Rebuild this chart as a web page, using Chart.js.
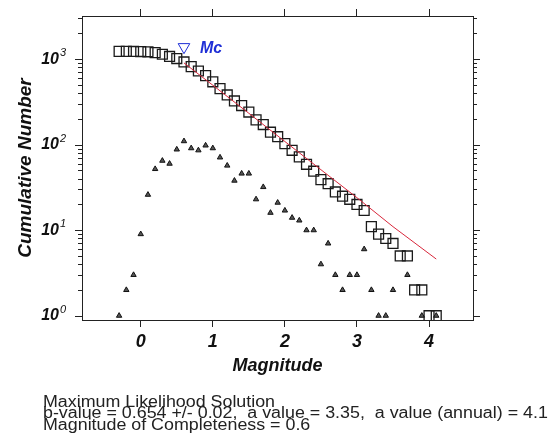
<!DOCTYPE html>
<html>
<head>
<meta charset="utf-8">
<script src="https://cdn.jsdelivr.net/npm/chart.js@4.4.1/dist/chart.umd.min.js"></script>
<style>
    html, body { margin: 0; padding: 0; background: #fff; }
</style>
</head>
<body>
<canvas id="fmd-chart" width="550" height="439"></canvas>
<script>
// magnitude bins (0.1 step)
var magBins = [-0.3, -0.2, -0.1, 0.0, 0.1, 0.2, 0.3, 0.4, 0.5, 0.6, 0.7, 0.8, 0.9, 1.0, 1.1,
    1.2, 1.3, 1.4, 1.5, 1.6, 1.7, 1.8, 1.9, 2.0, 2.1, 2.2, 2.3, 2.4, 2.5, 2.6, 2.7, 2.8, 2.9,
    3.0, 3.1, 3.2, 3.3, 3.4, 3.5, 3.6, 3.7, 3.8, 3.9, 4.0, 4.1];

// squares - cumulative number of events
var cumCount = [1235, 1234, 1232, 1229, 1220, 1194, 1142, 1077, 1017, 929, 819, 728, 642, 544, 453,
    382, 325, 287, 241, 195, 172, 140, 124, 103, 86, 72, 59, 49, 39, 35, 28, 25, 23,
    20, 17, 11, 9, 8, 7, 5, 5, 2, 2, 1, 1];

// triangles - events per bin (0 = nothing drawn)
var binCount = [1, 2, 3, 9, 26, 52, 65, 60, 88, 110, 91, 86, 98, 91, 71,
    57, 38, 46, 46, 23, 32, 16, 21, 17, 14, 13, 10, 10, 4, 7, 3, 2, 3,
    3, 6, 2, 1, 1, 2, 0, 3, 0, 1, 0, 1];

// red maximum likelihood line
var fitMag = [0.6, 1.0, 1.5, 2.0, 2.5, 3.0, 3.5, 4.1];
var fitCount = [905, 496, 233, 109, 51, 24, 11, 4.6];

// Mc marker
var mcMag = 0.6;
var mcCount = 1390;
var mcLabel = 'Mc';

var xTickValues = [0, 1, 2, 3, 4];
var yTickExponents = [0, 1, 2, 3];

var xTitle = 'Magnitude';
var yTitle = 'Cumulative Number';
var summaryLines = [
    'Maximum Likelihood Solution',
    'b-value = 0.654 +/- 0.02,  a value = 3.35,  a value (annual) = 4.1',
    'Magnitude of Completeness = 0.6'
];

var FONT = "'Liberation Sans', Arial, sans-serif";
var AXIS_COLOR = '#222';

function toPoints(xs, ys) {
    var pts = [];
    xs.forEach(function (x, i) {
        if (ys[i] > 0) {
            pts.push({x: x, y: ys[i]});
        }
    });
    return pts;
}

function setTicks(values) {
    return function (scale) {
        scale.ticks = values.map(function (v) { return {value: v}; });
    };
}

function hLine(ctx, x1, x2, y) {
    ctx.beginPath();
    ctx.moveTo(x1, y);
    ctx.lineTo(x2, y);
    ctx.stroke();
}

var decorPlugin = {
    id: 'decor',
    afterDraw: function (chart) {
        var ctx = chart.ctx;
        var area = chart.chartArea;
        var yScale = chart.scales.y;
        ctx.save();

        // log ticks on both sides, long ones at the decades
        ctx.strokeStyle = AXIS_COLOR;
        ctx.lineWidth = 1;
        yTickExponents.forEach(function (e) {
            for (var m = 1; m <= 9; m++) {
                var v = m * Math.pow(10, e);
                if (v < yScale.min || v > yScale.max) continue;
                var py = Math.round(yScale.getPixelForValue(v)) + 0.5;
                var len = m === 1 ? 7 : 4;
                hLine(ctx, area.left - len, area.left, py);
                hLine(ctx, area.right, area.right + len, py);
            }
        });

        // 10^n labels
        ctx.fillStyle = '#111';
        yTickExponents.forEach(function (e) {
            var py = yScale.getPixelForValue(Math.pow(10, e));
            ctx.font = 'italic bold 16px ' + FONT;
            ctx.textAlign = 'right';
            ctx.textBaseline = 'alphabetic';
            ctx.fillText('10', 59, py + 4.5);
            ctx.font = 'italic 11px ' + FONT;
            ctx.textAlign = 'left';
            ctx.fillText(String(e), 60, py - 3);
        });

        // Mc label next to its marker
        var mx = chart.scales.x.getPixelForValue(mcMag);
        var my = yScale.getPixelForValue(mcCount);
        ctx.fillStyle = '#1f2fd6';
        ctx.font = 'italic bold 16px ' + FONT;
        ctx.textAlign = 'left';
        ctx.fillText(mcLabel, mx + 16, my + 6.5);

        // summary text under the plot
        ctx.fillStyle = '#222';
        ctx.font = '16px ' + FONT;
        summaryLines.forEach(function (line, i) {
            ctx.save();
            ctx.translate(43, 406.5 + i * 11.6);
            ctx.scale(1.115, 1);
            ctx.fillText(line, 0, 0);
            ctx.restore();
        });
        ctx.restore();
    }
};

var chart = new Chart(document.getElementById('fmd-chart'), {
    type: 'scatter',
    data: {
        datasets: [{
            label: 'fit',
            data: toPoints(fitMag, fitCount),
            showLine: true,
            borderColor: '#d8283c',
            borderWidth: 1,
            pointRadius: 0,
            order: 0
        }, {
            label: 'Mc',
            data: [{x: mcMag, y: mcCount}],
            pointStyle: 'triangle',
            rotation: 180,
            pointRadius: 6.7,
            borderColor: '#1f2fd6',
            borderWidth: 1,
            backgroundColor: 'rgba(0,0,0,0)',
            order: 0
        }, {
            label: 'cumulative',
            data: toPoints(magBins, cumCount),
            pointStyle: 'rect',
            pointRadius: 7,
            borderColor: '#1a1a1a',
            borderWidth: 1.3,
            backgroundColor: 'rgba(0,0,0,0)',
            order: 1
        }, {
            label: 'per bin',
            data: toPoints(magBins, binCount),
            pointStyle: 'triangle',
            pointRadius: 3.1,
            borderColor: '#111',
            borderWidth: 1,
            backgroundColor: '#555',
            order: 2
        }]
    },
    options: {
        responsive: false,
        devicePixelRatio: 1,
        animation: false,
        layout: {padding: {left: 0, right: 0, top: 0, bottom: 59}},
        plugins: {
            legend: {display: false},
            tooltip: {enabled: false}
        },
        scales: {
            x: {
                type: 'linear',
                position: 'bottom',
                min: -0.815,
                max: 4.61,
                afterBuildTicks: setTicks(xTickValues),
                afterFit: function (s) { s.height = 60; },
                grid: {display: true, drawOnChartArea: false, tickLength: 7, color: AXIS_COLOR},
                border: {display: true, color: AXIS_COLOR, width: 1},
                ticks: {
                    color: '#111',
                    padding: 4,
                    font: {family: FONT, size: 18, style: 'italic', weight: 'bold'}
                },
                title: {
                    display: true,
                    text: xTitle,
                    color: '#111',
                    padding: {top: 0, bottom: 3},
                    font: {family: FONT, size: 18, style: 'italic', weight: 'bold'}
                }
            },
            x2: {
                type: 'linear',
                position: 'top',
                min: -0.815,
                max: 4.61,
                afterBuildTicks: setTicks(xTickValues),
                afterFit: function (s) { s.height = 16; },
                grid: {display: true, drawOnChartArea: false, tickLength: 7, color: AXIS_COLOR},
                border: {display: true, color: AXIS_COLOR, width: 1},
                ticks: {display: false}
            },
            y: {
                type: 'logarithmic',
                position: 'left',
                min: 0.891,
                max: 3200,
                afterFit: function (s) { s.width = 82; },
                grid: {display: true, drawOnChartArea: false, drawTicks: false},
                border: {display: true, color: AXIS_COLOR, width: 1},
                ticks: {display: false},
                title: {
                    display: true,
                    text: yTitle,
                    color: '#111',
                    padding: {top: 14, bottom: 0},
                    font: {family: FONT, size: 19, style: 'italic', weight: 'bold'}
                }
            },
            y2: {
                type: 'logarithmic',
                position: 'right',
                min: 0.891,
                max: 3200,
                afterFit: function (s) { s.width = 77; },
                grid: {display: true, drawOnChartArea: false, drawTicks: false},
                border: {display: true, color: AXIS_COLOR, width: 1},
                ticks: {display: false}
            }
        }
    },
    plugins: [decorPlugin]
});
</script>
</body>
</html>
